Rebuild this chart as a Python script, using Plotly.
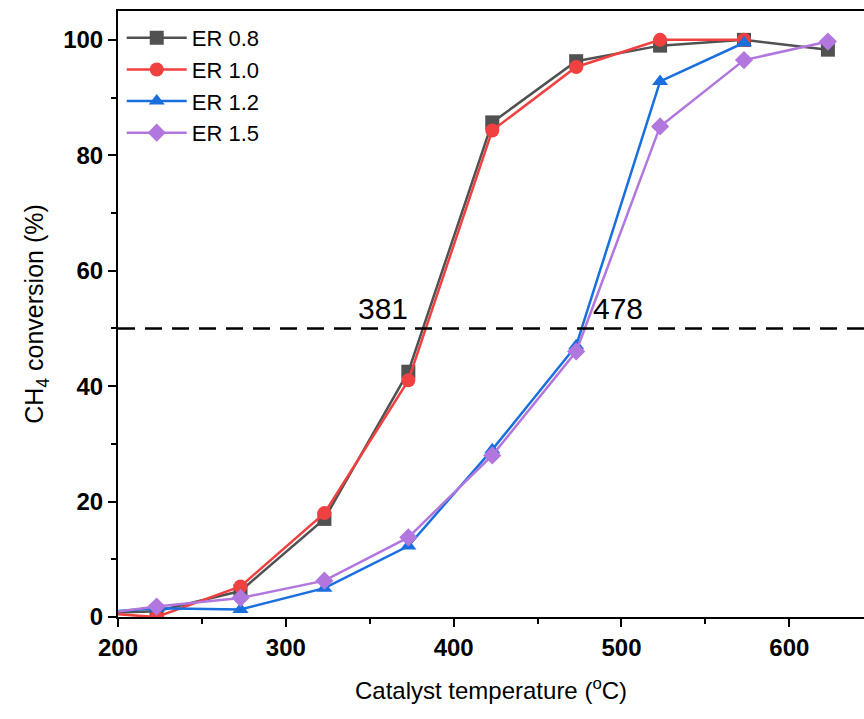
import plotly.graph_objects as go

temps = [173, 223, 273, 323, 373, 423, 473, 523, 573, 623]
er08 = [0.5, 1.0, 4.5, 17.0, 42.5, 85.7, 96.3, 99.0, 100.0, 98.3]
er10 = [1.0, 0.0, 5.3, 18.0, 41.0, 84.3, 95.3, 100.0, 100.0, None]
er12 = [0.5, 1.5, 1.3, 5.0, 12.3, 29.0, 47.0, 92.8, 99.5, None]
er15 = [0.0, 1.8, 3.3, 6.3, 13.8, 28.0, 46.0, 85.0, 96.5, 99.7]

series = [
    ("ER 0.8", er08, "#515151", "square"),
    ("ER 1.0", er10, "#F14040", "circle"),
    ("ER 1.2", er12, "#1A6FDF", "triangle-up"),
    ("ER 1.5", er15, "#B177DE", "diamond"),
]

half_level = 50
half_x = [200, 645]
labels_text = ["381", "478"]
labels_x = [358, 498]
labels_y = [53.5, 53.5]

fig = go.Figure()
for name, vals, col, sym in series:
    fig.add_trace(go.Scatter(
        x=temps, y=vals, name=name, mode="lines+markers",
        line=dict(color=col, width=2.5),
        marker=dict(symbol=sym, size=14, color=col),
        connectgaps=False,
    ))

fig.add_trace(go.Scatter(
    x=half_x, y=[half_level, half_level], mode="lines", showlegend=False,
    line=dict(color="black", width=2.5, dash="17px,10px"), hoverinfo="skip",
))

for t, xv, yv in zip(labels_text, labels_x, labels_y):
    fig.add_annotation(x=xv, y=yv, text=t, showarrow=False,
                       font=dict(size=30, color="black", family="Arial, Liberation Sans"))

fig.update_layout(
    width=864, height=719,
    margin=dict(l=118, r=0, t=11, b=102),
    paper_bgcolor="white", plot_bgcolor="white",
    font=dict(family="Arial, Liberation Sans", color="black"),
    legend=dict(x=0.005, y=0.99, xanchor="left", yanchor="top",
                bgcolor="rgba(0,0,0,0)", font=dict(size=22),
                tracegroupgap=0, itemwidth=60),
    showlegend=True,
)
fig.update_xaxes(
    range=[200, 644.5], showgrid=False, zeroline=False,
    showline=True, linecolor="black", linewidth=2, mirror=True,
    ticks="outside", ticklen=8, tickwidth=2, tickcolor="black",
    tick0=200, dtick=100,
    minor=dict(ticks="outside", ticklen=5, tickwidth=2, tickcolor="black", dtick=50, showgrid=False),
    tickfont=dict(size=24, family="Arial, Liberation Sans", weight="bold"),
    title=dict(text="Catalyst temperature (<sup>o</sup>C)", font=dict(size=24), standoff=22),
)
fig.update_yaxes(
    range=[0, 105], showgrid=False, zeroline=False,
    showline=True, linecolor="black", linewidth=2,
    ticks="outside", ticklen=8, tickwidth=2, tickcolor="black",
    tick0=0, dtick=20,
    minor=dict(ticks="outside", ticklen=5, tickwidth=2, tickcolor="black", dtick=10, showgrid=False),
    tickfont=dict(size=24, family="Arial, Liberation Sans", weight="bold"),
    title=dict(text="CH<sub>4</sub> conversion (%)", font=dict(size=25), standoff=12),
)

fig.write_html("out.html")
